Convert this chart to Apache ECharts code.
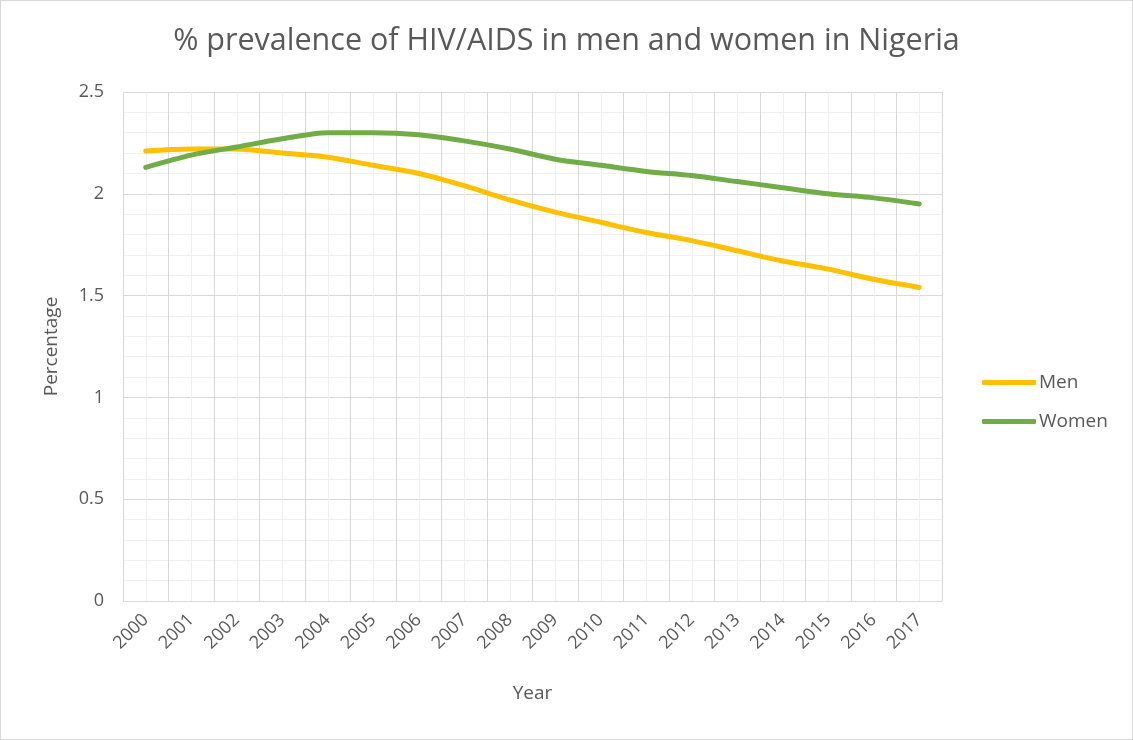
<html><head>
<meta charset="UTF-8">
<title>% prevalence of HIV/AIDS in men and women in Nigeria</title>
<style>
  body { margin: 0; background: #fff; }
  #chart { width: 1133px; height: 740px; box-sizing: border-box; border: 1px solid #d9d9d9; }
</style>
</head>
<body>
  <div id="chart"></div>
  <script src="https://cdn.jsdelivr.net/npm/echarts@6/dist/echarts.min.js"></script>
  <script>
    // data
    const years = ['2000','2001','2002','2003','2004','2005','2006','2007','2008',
                   '2009','2010','2011','2012','2013','2014','2015','2016','2017'];
    const men   = [2.21, 2.22, 2.22, 2.20, 2.18, 2.14, 2.10, 2.04, 1.97,
                   1.91, 1.86, 1.81, 1.77, 1.72, 1.67, 1.63, 1.58, 1.54];
    const women = [2.13, 2.19, 2.23, 2.27, 2.30, 2.30, 2.29, 2.26, 2.22,
                   2.17, 2.14, 2.11, 2.09, 2.06, 2.03, 2.00, 1.98, 1.95];

    const font = "'Open Sans', sans-serif";
    const txt = '#595959';

    const chart = echarts.init(document.getElementById('chart'));
    chart.setOption({
      animation: false,
      textStyle: { fontFamily: font, color: txt },
      title: {
        text: '% prevalence of HIV/AIDS in men and women in Nigeria',
        left: 'center', top: 20,
        textStyle: { fontFamily: font, fontSize: 30.5, fontWeight: 'normal', color: txt }
      },
      legend: {
        orient: 'vertical',
        left: 976, top: 367,
        itemWidth: 54, itemHeight: 5, itemGap: 20,
        icon: 'roundRect',
        textStyle: { fontFamily: font, fontSize: 19, color: txt, padding: [0, 0, 0, -2] }
      },
      grid: { left: 122, right: 190, top: 91, bottom: 138 },
      xAxis: [
        {
          type: 'category', data: years, boundaryGap: true, z: 3,
          name: 'Year', nameLocation: 'middle', nameGap: 83,
          nameTextStyle: { fontFamily: font, fontSize: 19, color: txt },
          axisLine: { lineStyle: { color: '#d9d9d9', width: 1 } },
          axisTick: { show: false },
          axisLabel: { rotate: 45, fontFamily: font, fontSize: 18, color: txt, margin: 16 },
          splitLine: { show: true, lineStyle: { color: '#d9d9d9', width: 1 } }
        },
        {
          // minor vertical grid at category centres
          type: 'value', min: 0, max: 36, interval: 1, show: true, z: 1,
          axisLine: { show: false }, axisTick: { show: false }, axisLabel: { show: false },
          splitLine: { show: true, lineStyle: { color: '#f0f0f0', width: 1 } }
        }
      ],
      yAxis: {
        type: 'value', min: 0, max: 2.5, interval: 0.5,
        name: 'Percentage', nameLocation: 'middle', nameGap: 62,
        nameTextStyle: { fontFamily: font, fontSize: 19, color: txt },
        axisLine: { show: false }, axisTick: { show: false },
        axisLabel: { fontFamily: font, fontSize: 18, color: txt, margin: 19 },
        splitLine: { show: true, lineStyle: { color: '#d9d9d9', width: 1 } },
        minorTick: { show: false, splitNumber: 5 },
        minorSplitLine: { show: true, lineStyle: { color: '#f0f0f0', width: 1 } }
      },
      series: [
        {
          name: 'Men', type: 'line', data: men, smooth: 0.3, showSymbol: false, z: 5,
          lineStyle: { color: '#FFC000', width: 5, cap: 'round' },
          itemStyle: { color: '#FFC000' }
        },
        {
          name: 'Women', type: 'line', data: women, smooth: 0.3, showSymbol: false, z: 5,
          lineStyle: { color: '#70AD47', width: 5, cap: 'round' },
          itemStyle: { color: '#70AD47' }
        }
      ]
    });
  </script>
</body></html>
